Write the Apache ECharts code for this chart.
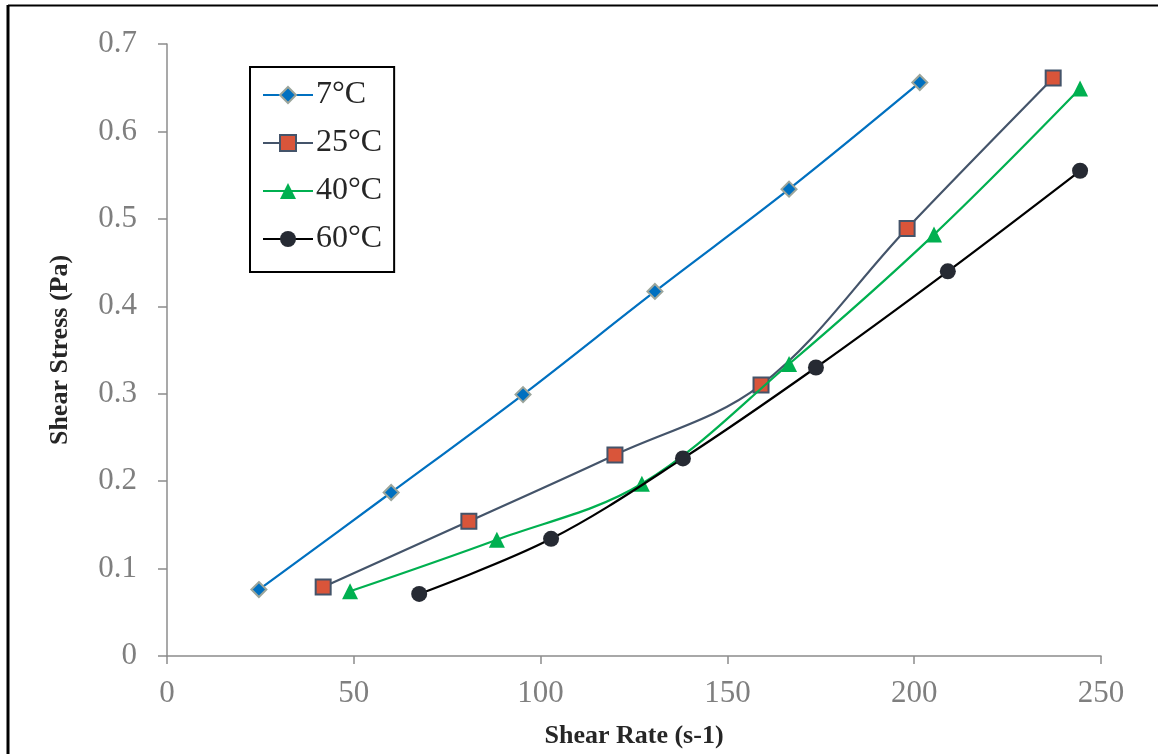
<!DOCTYPE html>
<html>
<head>
<meta charset="utf-8">
<script src="https://cdn.jsdelivr.net/npm/echarts@6/dist/echarts.min.js"></script>
<style>
html,body{margin:0;padding:0;background:#fff;overflow:hidden;}
#chart{width:1158px;height:754px;}
</style>
</head>
<body>
<div id="chart"></div>
<script>
const seriesNames = ['7°C', '25°C', '40°C', '60°C'];
const rate7 = [24.6, 60.0, 95.3, 130.6, 166.5, 201.5];
const stress7 = [0.076, 0.187, 0.299, 0.417, 0.534, 0.656];
const rate25 = [41.8, 80.8, 119.9, 159.0, 198.1, 237.2];
const stress25 = [0.079, 0.154, 0.230, 0.310, 0.489, 0.661];
const rate40 = [49.0, 88.3, 127.1, 166.5, 205.3, 244.4];
const stress40 = [0.074, 0.133, 0.197, 0.334, 0.482, 0.649];
const rate60 = [67.5, 102.8, 138.1, 173.7, 209.0, 244.4];
const stress60 = [0.071, 0.134, 0.226, 0.330, 0.440, 0.555];

const pairs = (xs, ys) => xs.map((x, i) => [x, ys[i]]);
const FONT = '"Liberation Serif", "Times New Roman", serif';

const chart = echarts.init(document.getElementById('chart'), null, {renderer: 'canvas'});
const styles = [
  {line: '#0070C0', fill: '#0070C0', border: '#9BA59B', symbol: 'diamond', size: 15, bw: 2},
  {line: '#44546A', fill: '#D9553A', border: '#44546A', symbol: 'rect', size: 15, bw: 2},
  {line: '#00B050', fill: '#00B050', border: '#00B050', symbol: 'triangle', size: 16, bw: 0},
  {line: '#000000', fill: '#262A33', border: '#262A33', symbol: 'circle', size: 16, bw: 0}
];
const datas = [pairs(rate7, stress7), pairs(rate25, stress25), pairs(rate40, stress40), pairs(rate60, stress60)];

chart.setOption({
  animation: false,
  backgroundColor: '#ffffff',
  grid: {left: 167, right: 57, top: 44, bottom: 97, containLabel: false},
  xAxis: {
    type: 'value', min: 0, max: 250, interval: 50,
    name: 'Shear Rate (s-1)', nameLocation: 'middle', nameGap: 67,
    nameTextStyle: {fontFamily: FONT, fontWeight: 'bold', fontSize: 26, color: '#262626'},
    axisLine: {show: true, lineStyle: {color: '#8C8C8C', width: 1.5}},
    axisTick: {show: true, inside: false, length: 8, lineStyle: {color: '#8C8C8C', width: 1.5}},
    axisLabel: {fontFamily: FONT, fontSize: 31, color: '#7F7F7F', margin: 22},
    splitLine: {show: false}
  },
  yAxis: {
    type: 'value', min: 0, max: 0.7, interval: 0.1,
    name: 'Shear Stress (Pa)', nameLocation: 'middle', nameGap: 94, nameRotate: 90,
    nameTextStyle: {fontFamily: FONT, fontWeight: 'bold', fontSize: 26, color: '#262626'},
    axisLine: {show: true, lineStyle: {color: '#8C8C8C', width: 1.5}},
    axisTick: {show: true, inside: false, length: 9, lineStyle: {color: '#8C8C8C', width: 1.5}},
    axisLabel: {fontFamily: FONT, fontSize: 31, color: '#7F7F7F', margin: 30},
    splitLine: {show: false}
  },
  legend: {
    show: true, orient: 'vertical', left: 250, top: 67,
    padding: [12, 12, 17, 12], itemGap: 16, itemWidth: 50, itemHeight: 20,
    borderColor: '#000', borderWidth: 2,
    textStyle: {fontFamily: FONT, fontSize: 32, color: '#262626', lineHeight: 32, padding: [0, 0, 0, -2]},
    data: seriesNames
  },
  graphic: [
    {type: 'line', shape: {x1: 8, y1: 5, x2: 8, y2: 754}, style: {stroke: '#000', lineWidth: 3}},
    {type: 'line', shape: {x1: 8, y1: 5.5, x2: 1158, y2: 5.5}, style: {stroke: '#000', lineWidth: 2}}
  ],
  series: seriesNames.map((n, i) => ({
    name: n, type: 'line', data: datas[i], smooth: 0.35,
    symbol: styles[i].symbol, symbolSize: styles[i].size,
    lineStyle: {color: styles[i].line, width: 2.2},
    itemStyle: {color: styles[i].fill, borderColor: styles[i].border, borderWidth: styles[i].bw},
    z: 2 + i
  }))
});
</script>
</body>
</html>
